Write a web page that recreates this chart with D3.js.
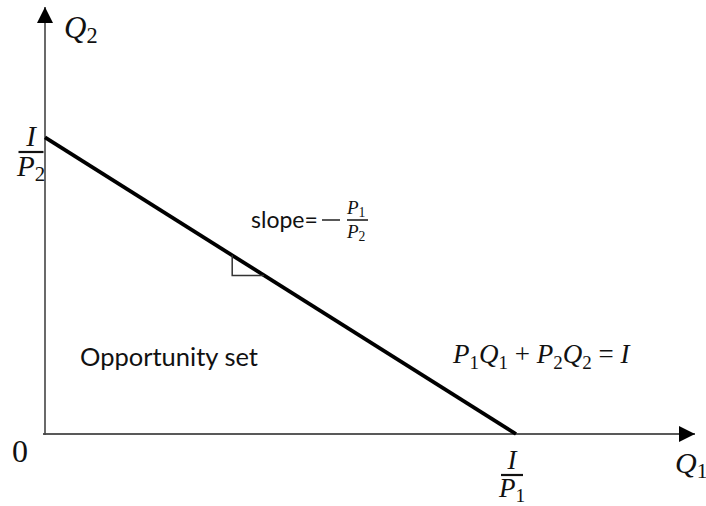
<!DOCTYPE html>
<html>
  <head>
    <meta charset="utf-8">
    <title>Budget constraint</title>
    <script src="https://cdn.jsdelivr.net/npm/d3@7"></script>
    <style>
      body { margin: 0; background: #fff; }
      .math { font-family: "Liberation Serif", serif; font-style: italic; fill: #111; }
      .math .up { font-style: normal; }
      .note { font-family: Lato, "Liberation Sans", sans-serif; fill: #111; }
    </style>
  </head>
  <body>
    <svg id="chart" width="706" height="506"></svg>

    <script>
      // data
      income = 100;
      prices = [1.38, 1.44];          // P1, P2
      axisMax = [100, 100];           // Q1, Q2 extent of the axes
      markerQ1 = 28.8;                // where the slope triangle sits
      markerDrop = 4.7;               // triangle height, in Q2 units
      axisLabels = ["Q", "Q"];
      areaLabel = "Opportunity set";
      slopeLabel = "slope=";
      equation = [["P", "1"], ["Q", "1"], [" + ", null], ["P", "2"], ["Q", "2"], [" = ", null], ["I", null]];

      svg = d3.select("#chart");

      x = d3.scaleLinear().domain([0, axisMax[0]]).range([45, 695]);
      y = d3.scaleLinear().domain([0, axisMax[1]]).range([434, 7]);

      budget = function(q1) { return (income - prices[0] * q1) / prices[1]; };
      q1Max = income / prices[0];

      // arrow heads
      defs = svg.append("defs");
      defs.append("marker")
          .attr("id", "arrow")
          .attr("viewBox", "0 0 10 10")
          .attr("refX", 10)
          .attr("refY", 5)
          .attr("markerWidth", 17)
          .attr("markerHeight", 16)
          .attr("markerUnits", "userSpaceOnUse")
          .attr("orient", "auto")
        .append("path")
          .attr("d", "M0,0L10,5L0,10Z")
          .attr("fill", "#000");

      // axes
      svg.append("line")
          .attr("x1", x(0) - 2).attr("y1", y(0))
          .attr("x2", x(axisMax[0])).attr("y2", y(0))
          .attr("stroke", "#222")
          .attr("stroke-width", 1.6)
          .attr("marker-end", "url(#arrow)");
      svg.append("line")
          .attr("x1", x(0)).attr("y1", y(0) + 1)
          .attr("x2", x(0)).attr("y2", y(axisMax[1]))
          .attr("stroke", "#444")
          .attr("stroke-width", 1.6)
          .attr("marker-end", "url(#arrow)");

      // budget line
      svg.append("path")
          .datum([0, q1Max])
          .attr("d", d3.line()
            .x(function(d) { return x(d); })
            .y(function(d) { return y(budget(d)); }))
          .attr("stroke", "#000")
          .attr("stroke-width", 3.8)
          .attr("fill", "none");

      // slope triangle
      top1 = budget(markerQ1);
      cornerQ2 = top1 - markerDrop;
      rightQ1 = (income - prices[1] * cornerQ2) / prices[0];
      svg.append("path")
          .attr("d", d3.line()([
            [x(markerQ1), y(top1)],
            [x(markerQ1), y(cornerQ2)],
            [x(rightQ1), y(cornerQ2)]
          ]))
          .attr("stroke", "#333")
          .attr("stroke-width", 1.5)
          .attr("fill", "none");

      // helpers for math text
      function sym(g, letter, sub, px, py, size) {
        let t = g.append("text").attr("class", "math")
          .attr("x", px).attr("y", py)
          .style("font-size", size + "px");
        t.append("tspan").text(letter);
        if (sub) t.append("tspan").attr("class", "up").attr("dy", size * 0.17)
          .style("font-size", size * 0.72 + "px").text(sub);
        return t;
      }

      function fraction(cx, barY, num, den, size, barW) {
        let g = svg.append("g");
        g.append("text").attr("class", "math")
          .attr("x", cx).attr("y", barY - 6)
          .attr("text-anchor", "middle")
          .style("font-size", size + "px")
          .text(num[0]);
        g.append("line")
          .attr("x1", cx - barW / 2).attr("x2", cx + barW / 2)
          .attr("y1", barY).attr("y2", barY)
          .attr("stroke", "#111").attr("stroke-width", 2.2);
        let d = sym(g, den[0], den[1], cx, barY + size * 0.82, size);
        d.attr("text-anchor", "middle");
        return g;
      }

      // axis labels
      sym(svg, axisLabels[1], "2", 64, 38, 31);
      sym(svg, axisLabels[0], "1", 675, 473, 30);
      svg.append("text").attr("class", "math")
          .attr("x", 20).attr("y", 462)
          .attr("text-anchor", "middle")
          .style("font-style", "normal")
          .style("font-size", "32px")
          .text("0");

      // intercepts
      fraction(31, 152, ["I"], ["P", "2"], 29, 25);
      fraction(x(q1Max) - 4, 475, ["I"], ["P", "1"], 27, 22);

      // notes
      svg.append("text").attr("class", "note")
          .attr("x", 80).attr("y", 366)
          .style("font-size", "25.5px")
          .text(areaLabel);

      svg.append("text").attr("class", "note")
          .attr("x", 251).attr("y", 228)
          .style("font-size", "23px")
          .text(slopeLabel);
      svg.append("line")
          .attr("x1", 322).attr("x2", 340)
          .attr("y1", 220).attr("y2", 220)
          .attr("stroke", "#111").attr("stroke-width", 1.4);
      slopeFrac = svg.append("g");
      sym(slopeFrac, "P", "1", 347, 214, 19);
      slopeFrac.append("line")
          .attr("x1", 347).attr("x2", 368)
          .attr("y1", 220).attr("y2", 220)
          .attr("stroke", "#111").attr("stroke-width", 1.5);
      sym(slopeFrac, "P", "2", 347, 238, 19);

      // equation
      eq = svg.append("text").attr("class", "math")
          .attr("x", 453).attr("y", 363)
          .style("font-size", "27px")
          .style("white-space", "pre");
      shift = 0;
      equation.forEach(function(p) {
        let t = eq.append("tspan").attr("dy", -shift).text(p[0]);
        shift = 0;
        if (p[1] === null && p[0] !== "I") t.attr("class", "up");
        if (p[1]) {
          eq.append("tspan").attr("class", "up").attr("dy", 6)
            .style("font-size", "19px").text(p[1]);
          shift = 6;
        }
      });
    </script>
  </body>
</html>
